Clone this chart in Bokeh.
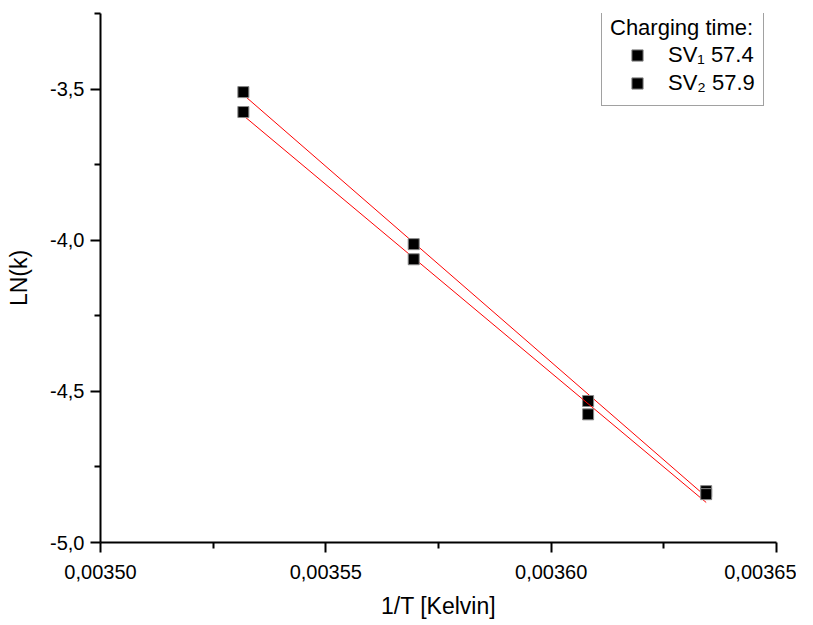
from bokeh.plotting import figure
from bokeh.models import (ColumnDataSource, Legend, LegendItem, FixedTicker,
                          CustomJSTickFormatter, Range1d)
from bokeh.embed import file_html
from bokeh.resources import INLINE
import numpy as np

# ---- data ----
inv_T = [0.0035317, 0.0035695, 0.0036082, 0.0036344]
sv1 = [-3.510, -4.013, -4.532, -4.830]
sv2 = [-3.576, -4.063, -4.576, -4.840]
series_labels = ["SV\u2081 57.4", "SV\u2082 57.9"]
legend_title = "Charging time:"

x_major = [0.00350, 0.00355, 0.00360, 0.00365]
x_minor = [0.003525, 0.003575, 0.003625]
y_major = [-5.0, -4.5, -4.0, -3.5]
y_minor = [-4.75, -4.25, -3.75, -3.25]

FONT = "Liberation Sans"

p = figure(frame_width=676, frame_height=529,
           x_range=Range1d(0.00350, 0.00365), y_range=Range1d(-5.0, -3.25),
           output_backend="svg", toolbar_location=None,
           min_border_left=100, min_border_top=13, min_border_right=20,
           min_border_bottom=78)
p.outline_line_color = None
p.xgrid.visible = False
p.ygrid.visible = False
p.background_fill_color = "white"
p.border_fill_color = "white"

items = []
for ys, lab in zip([sv1, sv2], series_labels):
    src = ColumnDataSource(dict(x=inv_T, y=ys))
    k, b = np.polyfit(inv_T, ys, 1)
    xs = [min(inv_T), max(inv_T)]
    p.line(xs, [k * xx + b for xx in xs], line_color="#ff0000", line_width=1)
    r = p.scatter("x", "y", source=src, marker="square", size=11,
                  fill_color="black", line_color="#888888", line_width=1)
    items.append(LegendItem(label=lab, renderers=[r]))

legend = Legend(items=items, location=(501, 436), title=legend_title,
                title_text_font=FONT, title_text_font_size="22px",
                title_text_font_style="normal", title_standoff=0,
                title_text_color="black",
                label_text_font=FONT, label_text_font_size="22px",
                label_text_color="black",
                border_line_color="#444444", border_line_width=1,
                background_fill_alpha=1.0, padding=8, spacing=-2,
                glyph_width=54, glyph_height=28, label_height=26,
                label_standoff=4, margin=0)
p.add_layout(legend)

for ax in (p.xaxis[0], p.yaxis[0]):
    ax.axis_line_width = 2
    ax.axis_line_color = "black"
    ax.major_tick_line_width = 2
    ax.minor_tick_line_width = 2
    ax.major_tick_out = 10
    ax.major_tick_in = 0
    ax.minor_tick_out = 6
    ax.minor_tick_in = 0
    ax.major_label_text_font = FONT
    ax.major_label_text_font_size = "20px"
    ax.major_label_text_color = "black"
    ax.axis_label_text_font = FONT
    ax.axis_label_text_font_size = "23px"
    ax.axis_label_text_font_style = "normal"
    ax.axis_label_text_color = "black"

p.xaxis.ticker = FixedTicker(ticks=x_major, minor_ticks=x_minor)
p.yaxis.ticker = FixedTicker(ticks=y_major, minor_ticks=y_minor)
p.xaxis.formatter = CustomJSTickFormatter(code="return tick.toFixed(5).replace('.', ',');")
p.yaxis.formatter = CustomJSTickFormatter(code="return tick.toFixed(1).replace('.', ',');")
p.xaxis.axis_label = "1/T [Kelvin]"
p.yaxis.axis_label = "LN(k)"
p.xaxis.major_label_standoff = 12
p.yaxis.major_label_standoff = 6
p.xaxis.axis_label_standoff = 11
p.yaxis.axis_label_standoff = 15

open("out.html", "w").write(file_html(p, INLINE))
